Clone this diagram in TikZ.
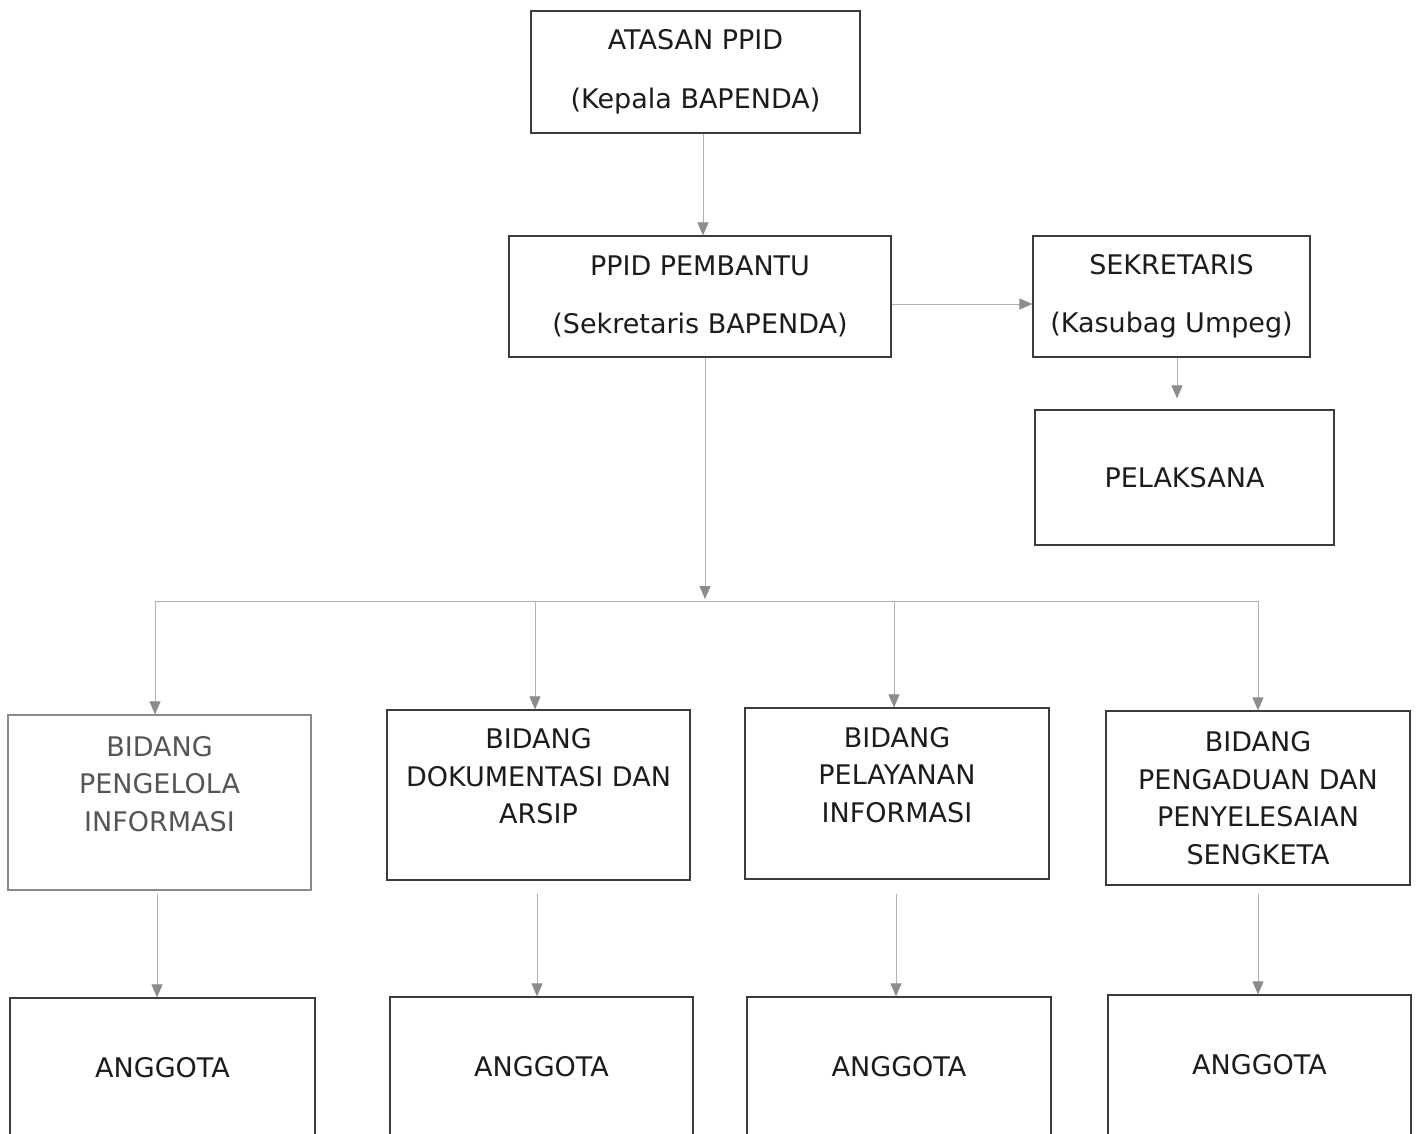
\documentclass[tikz,border=0pt]{standalone}
\usepackage{fontspec}
\setmainfont{DejaVu Sans}
\usetikzlibrary{arrows.meta}
\definecolor{boxline}{HTML}{3C3C3C}
\definecolor{boxtext}{HTML}{1C1C1C}
\definecolor{fadeline}{HTML}{8A8A8A}
\definecolor{fadetext}{HTML}{555555}
\definecolor{conn}{HTML}{B0B0B0}
\definecolor{tipcol}{HTML}{8C8C8C}
\tikzset{
  orgbox/.style={draw=boxline, line width=1.2pt, rectangle, inner sep=0pt,
    align=center, text=boxtext, fill=white},
  wide/.style={font=\fontsize{27}{58.5}\selectfont},
  narrow/.style={font=\fontsize{27}{37.5}\selectfont},
  faded/.style={draw=fadeline, text=fadetext},
  link/.style={draw=conn, line width=0.9pt,
    -{Triangle[width=11pt,length=13pt,color=tipcol,fill=tipcol]}},
  plain/.style={draw=conn, line width=0.9pt}
}
\begin{document}
\begin{tikzpicture}[x=1pt,y=-1pt]
\useasboundingbox (0,0) rectangle (1418,1134);
\clip (0,0) rectangle (1418,1134);
\fill[white] (0,0) rectangle (1418,1134);

% top levels
\node[orgbox, wide, minimum width=329pt, minimum height=122pt] (atasan) at (695.5,72)
  {ATASAN PPID\\(Kepala BAPENDA)};
\node[orgbox, wide, minimum width=382pt, minimum height=121pt] (ppid) at (700,296.5)
  {PPID PEMBANTU\\(Sekretaris BAPENDA)};
\node[orgbox, wide, minimum width=277pt, minimum height=121pt] (sekr) at (1171.5,296.5)
  {SEKRETARIS\\(Kasubag Umpeg)};
\node[orgbox, wide, minimum width=299pt, minimum height=135pt] (pelak) at (1184.5,477.5)
  {PELAKSANA};

% bidang
\node[orgbox, narrow, faded, minimum width=303pt, minimum height=175pt] (b1) at (159.5,802.5)
  {BIDANG\\PENGELOLA\\INFORMASI\\\mbox{}};
\node[orgbox, narrow, minimum width=303pt, minimum height=170pt] (b2) at (538.5,795)
  {BIDANG\\DOKUMENTASI DAN\\ARSIP\\\mbox{}};
\node[orgbox, narrow, minimum width=304pt, minimum height=171pt] (b3) at (897,793.5)
  {BIDANG\\PELAYANAN\\INFORMASI\\\mbox{}};
\node[orgbox, narrow, minimum width=304pt, minimum height=174pt] (b4) at (1258,798)
  {BIDANG\\PENGADUAN DAN\\PENYELESAIAN\\SENGKETA};

% anggota
\node[orgbox, wide, minimum width=305pt, minimum height=140pt] (a1) at (162.5,1068) {ANGGOTA};
\node[orgbox, wide, minimum width=303pt, minimum height=140pt] (a2) at (541.5,1067) {ANGGOTA};
\node[orgbox, wide, minimum width=304pt, minimum height=140pt] (a3) at (899,1067) {ANGGOTA};
\node[orgbox, wide, minimum width=303pt, minimum height=140pt] (a4) at (1259.5,1065) {ANGGOTA};

% bus coordinates
\coordinate (bus) at (705,601);
\coordinate (busL) at (155,601);
\coordinate (j2) at (535,601);
\coordinate (j3) at (894,601);
\coordinate (busR) at (1258,601);

% connectors
\draw[link] ([xshift=7.5pt]atasan.south) -- ([xshift=7.5pt]atasan.south |- ppid.north);
\draw[link] ([yshift=-7.5pt]ppid.east) -- ([yshift=-7.5pt]ppid.east -| sekr.west);
\draw[link, shorten >=11pt] ([xshift=5.5pt]sekr.south) -- ([xshift=5.5pt]sekr.south |- pelak.north);
\draw[link, shorten >=2pt] ([xshift=5pt]ppid.south) -- (bus);
\draw[plain] (busL) -- (busR);
\draw[link] (busL) -- (busL |- b1.north);
\draw[link] (j2) -- (j2 |- b2.north);
\draw[link] (j3) -- (j3 |- b3.north);
\draw[link] (busR) -- (busR |- b4.north);

\draw[link, shorten <=3pt] ([xshift=-2.5pt]b1.south) -- ([xshift=-2.5pt]b1.south |- a1.north);
\draw[link, shorten <=13pt] ([xshift=-1.5pt]b2.south) -- ([xshift=-1.5pt]b2.south |- a2.north);
\draw[link, shorten <=14pt] ([xshift=-1pt]b3.south) -- ([xshift=-1pt]b3.south |- a3.north);
\draw[link, shorten <=8pt] (b4.south) -- (b4.south |- a4.north);
\end{tikzpicture}
\end{document}
